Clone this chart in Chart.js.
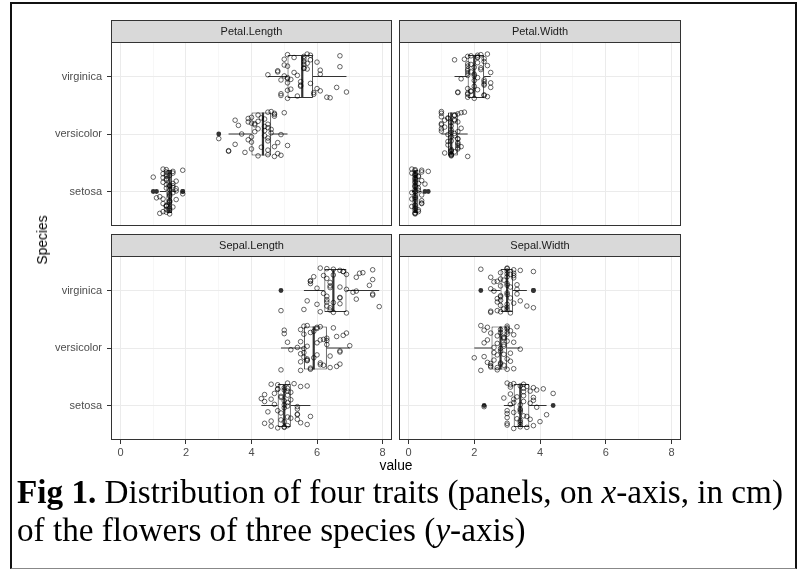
<!DOCTYPE html>
<html>
<head>
<meta charset="utf-8">
<title>Iris traits by species</title>
<script src="https://cdn.jsdelivr.net/npm/chart.js@4.4.1/dist/chart.umd.min.js"></script>
<style>
  html, body { margin: 0; padding: 0; background: #fff; }
  #fig { position: relative; width: 803px; height: 571px; overflow: hidden; background: #fff; font-family: "Liberation Sans", Arial, sans-serif; }
  #fig canvas { position: absolute; left: 0; top: 0; }
  .frame { position: absolute; left: 10px; top: 2px; width: 787px; height: 567px; box-sizing: border-box; border: 2.5px solid #111; border-bottom: 1.5px solid #888; }
  .ytitle { position: absolute; left: 43px; top: 240px; transform: translate(-50%, -50%) rotate(-90deg); font-size: 13.8px; line-height: 16px; color: #000; white-space: nowrap; }
  .xtitle { position: absolute; left: 346px; width: 100px; top: 458px; text-align: center; font-size: 13.8px; line-height: 16px; color: #000; }
  .caption { position: absolute; left: 17px; top: 473px; font-family: "Liberation Serif", "Times New Roman", serif; font-size: 33.2px; line-height: 38px; color: #000; white-space: nowrap; }
</style>
</head>
<body>
<div id="fig">
  <div class="frame"></div>
  <canvas id="pl" width="803" height="571"></canvas>
  <canvas id="pw" width="803" height="571"></canvas>
  <canvas id="sl" width="803" height="571"></canvas>
  <canvas id="sw" width="803" height="571"></canvas>
  <div class="ytitle">Species</div>
  <div class="xtitle">value</div>
  <div class="caption"><b>Fig 1.</b> Distribution of four traits (panels, on <i>x</i>-axis, in cm)<br>of the flowers of three species (<i>y</i>-axis)</div>
</div>
<script>
const species = ['setosa', 'versicolor', 'virginica'];
const xTicks = [0, 1, 2, 3, 4, 5, 6, 7, 8];
const xLabels = ['0', '', '2', '', '4', '', '6', '', '8'];

// 50 setosa, 50 versicolor, 50 virginica
const petalLength = [
  1.4,1.4,1.3,1.5,1.4,1.7,1.4,1.5,1.4,1.5, 1.5,1.6,1.4,1.1,1.2,1.5,1.3,1.4,1.7,1.5,
  1.7,1.5,1.0,1.7,1.9,1.6,1.6,1.5,1.4,1.6, 1.6,1.5,1.5,1.4,1.5,1.2,1.3,1.4,1.3,1.5,
  1.3,1.3,1.3,1.6,1.9,1.4,1.6,1.4,1.5,1.4,
  4.7,4.5,4.9,4.0,4.6,4.5,4.7,3.3,4.6,3.9, 3.5,4.2,4.0,4.7,3.6,4.4,4.5,4.1,4.5,3.9,
  4.8,4.0,4.9,4.7,4.3,4.4,4.8,5.0,4.5,3.5, 3.8,3.7,3.9,5.1,4.5,4.5,4.7,4.4,4.1,4.0,
  4.4,4.6,4.0,3.3,4.2,4.2,4.2,4.3,3.0,4.1,
  6.0,5.1,5.9,5.6,5.8,6.6,4.5,6.3,5.8,6.1, 5.1,5.3,5.5,5.0,5.1,5.3,5.5,6.7,6.9,5.0,
  5.7,4.9,6.7,4.9,5.7,6.0,4.8,4.9,5.6,5.8, 6.1,6.4,5.6,5.1,5.6,6.1,5.6,5.5,4.8,5.4,
  5.6,5.1,5.1,5.9,5.7,5.2,5.0,5.2,5.4,5.1
];
const petalWidth = [
  0.2,0.2,0.2,0.2,0.2,0.4,0.3,0.2,0.2,0.1, 0.2,0.2,0.1,0.1,0.2,0.4,0.4,0.3,0.3,0.3,
  0.2,0.4,0.2,0.5,0.2,0.2,0.4,0.2,0.2,0.2, 0.2,0.4,0.1,0.2,0.2,0.2,0.2,0.1,0.2,0.2,
  0.3,0.3,0.2,0.6,0.4,0.3,0.2,0.2,0.2,0.2,
  1.4,1.5,1.5,1.3,1.5,1.3,1.6,1.0,1.3,1.4, 1.0,1.5,1.0,1.4,1.3,1.4,1.5,1.0,1.5,1.1,
  1.8,1.3,1.5,1.2,1.3,1.4,1.4,1.7,1.5,1.0, 1.1,1.0,1.2,1.6,1.5,1.6,1.5,1.3,1.3,1.3,
  1.2,1.4,1.2,1.0,1.3,1.2,1.3,1.3,1.1,1.3,
  2.5,1.9,2.1,1.8,2.2,2.1,1.7,1.8,1.8,2.5, 2.0,1.9,2.1,2.0,2.4,2.3,1.8,2.2,2.3,1.5,
  2.3,2.0,2.0,1.8,2.1,1.8,1.8,1.8,2.1,1.6, 1.9,2.0,2.2,1.5,1.4,2.3,2.4,1.8,1.8,2.1,
  2.4,2.3,1.9,2.3,2.5,2.3,1.9,2.0,2.3,1.8
];
const sepalLength = [
  5.1,4.9,4.7,4.6,5.0,5.4,4.6,5.0,4.4,4.9, 5.4,4.8,4.8,4.3,5.8,5.7,5.4,5.1,5.7,5.1,
  5.4,5.1,4.6,5.1,4.8,5.0,5.0,5.2,5.2,4.7, 4.8,5.4,5.2,5.5,4.9,5.0,5.5,4.9,4.4,5.1,
  5.0,4.5,4.4,5.0,5.1,4.8,5.1,4.6,5.3,5.0,
  7.0,6.4,6.9,5.5,6.5,5.7,6.3,4.9,6.6,5.2, 5.0,5.9,6.0,6.1,5.6,6.7,5.6,5.8,6.2,5.6,
  5.9,6.1,6.3,6.1,6.4,6.6,6.8,6.7,6.0,5.7, 5.5,5.5,5.8,6.0,5.4,6.0,6.7,6.3,5.6,5.5,
  5.5,6.1,5.8,5.0,5.6,5.7,5.7,6.2,5.1,5.7,
  6.3,5.8,7.1,6.3,6.5,7.6,4.9,7.3,6.7,7.2, 6.5,6.4,6.8,5.7,5.8,6.4,6.5,7.7,7.7,6.0,
  6.9,5.6,7.7,6.3,6.7,7.2,6.2,6.1,6.4,7.2, 7.4,7.9,6.4,6.3,6.1,7.7,6.3,6.4,6.0,6.9,
  6.7,6.9,5.8,6.8,6.7,6.7,6.3,6.5,6.2,5.9
];
const sepalWidth = [
  3.5,3.0,3.2,3.1,3.6,3.9,3.4,3.4,2.9,3.1, 3.7,3.4,3.0,3.0,4.0,4.4,3.9,3.5,3.8,3.8,
  3.4,3.7,3.6,3.3,3.4,3.0,3.4,3.5,3.4,3.2, 3.1,3.4,4.1,4.2,3.1,3.2,3.5,3.6,3.0,3.4,
  3.5,2.3,3.2,3.5,3.8,3.0,3.8,3.2,3.7,3.3,
  3.2,3.2,3.1,2.3,2.8,2.8,3.3,2.4,2.9,2.7, 2.0,3.0,2.2,2.9,2.9,3.1,3.0,2.7,2.2,2.5,
  3.2,2.8,2.5,2.8,2.9,3.0,2.8,3.0,2.9,2.6, 2.4,2.4,2.7,2.7,3.0,3.4,3.1,2.3,3.0,2.5,
  2.6,3.0,2.6,2.3,2.7,3.0,2.9,2.9,2.5,2.8,
  3.3,2.7,3.0,2.9,3.0,3.0,2.5,2.9,2.5,3.6, 3.2,2.7,3.0,2.5,2.8,3.2,3.0,3.8,2.6,2.2,
  3.2,2.8,2.8,2.7,3.3,3.2,2.8,3.0,2.8,3.0, 2.8,3.8,2.8,2.8,2.6,3.0,3.4,3.1,3.0,3.1,
  3.1,3.1,2.7,3.2,3.3,3.0,2.5,3.0,3.4,3.0
];

// vertical jitter of each point, in hundredths of a category step
const jitterPL = [
  12,-25,31,-8,-36,5,22,-17,38,-3, -29,14,27,-11,-38,9,-21,34,1,-33,
  18,-6,25,-14,37,-27,7,-39,20,-2, 32,-19,11,-31,28,-9,16,-24,39,3,
  -35,24,-13,35,-4,-26,10,30,-16,6,
  -22,17,-37,29,2,-12,36,-30,8,21, -18,33,-5,-39,15,26,-28,4,38,-10,
  -34,19,-1,31,-23,13,-15,37,-7,24, -32,0,27,-20,11,-36,34,-3,18,-26,
  6,39,-14,-29,22,9,-38,28,-8,16,
  25,-4,-31,14,37,-19,3,-36,29,11, -24,33,-9,20,-38,7,-15,36,-27,1,
  23,-33,17,-6,39,-21,10,-30,31,-12, 4,-37,26,-2,15,-25,35,-17,8,-34,
  21,-11,38,-28,13,-5,30,-22,2,18
];
const jitterPW = [
  -7,28,-33,15,36,-20,2,-39,24,-13, 31,9,-26,-2,38,-16,19,-35,6,27,
  -10,34,-30,13,-23,0,37,-18,22,-37, 11,-6,32,-28,17,-14,3,39,-25,8,
  -32,26,-1,35,-21,14,-38,20,-11,29,
  33,-15,4,-38,21,-27,10,36,-5,-31, 18,-20,39,1,-35,25,-9,30,-24,12,
  -39,7,35,-13,-29,23,-3,38,-17,16, -33,5,27,-22,-8,37,-26,14,-36,20,
  -1,32,-19,9,-30,28,-12,-37,24,3,
  -19,8,37,-29,15,-2,30,-36,22,-11, 4,-25,34,-7,19,-33,10,38,-15,-28,
  26,1,-38,13,33,-21,6,-31,24,-4, 36,-17,12,-27,29,-9,-35,18,2,-23,
  39,-13,21,-32,7,31,-26,16,-6,35
];
const jitterSL = [
  30,-13,21,-36,8,-24,37,1,-31,16, -6,28,-39,12,-19,34,-2,25,-33,5,
  -15,39,-27,18,-9,31,-37,10,-22,2, 36,-16,23,-30,14,-4,33,-25,7,-35,
  27,-11,19,-38,-1,29,-20,11,38,-28,
  4,-34,26,-10,35,-22,13,-38,20,-3, 31,-17,9,-29,38,-7,24,-35,15,-1,
  29,-26,6,37,-14,-32,22,-5,34,-21, 11,-39,27,-12,1,36,-28,17,-8,32,
  -24,14,-37,25,-16,3,39,-30,10,-19,
  -27,16,-3,38,-21,9,-35,30,-12,23, -38,5,33,-18,12,-30,27,-6,36,-24,
  2,-33,19,-10,35,-15,26,-37,8,-1, 31,-28,14,-20,39,-8,21,-34,4,28,
  -13,-39,17,33,-23,6,-16,37,-5,24
];
const jitterSW = [
  17,-31,5,36,-19,27,-8,-37,13,32, -24,1,-14,39,-28,21,-3,30,-35,9,
  -11,25,-38,15,34,-21,-6,37,-26,11, 2,-33,29,-16,20,-40,7,33,-9,-29,
  24,-2,38,-18,14,-34,31,-12,4,-23,
  -36,23,-9,31,-1,-26,37,14,-30,8, -17,35,-39,19,3,-23,28,-12,39,-33,
  10,-5,26,-28,16,-37,32,-19,6,-8, 36,-25,21,-34,12,-2,30,-15,38,-31,
  1,24,-21,9,-38,33,-11,18,-27,27,
  10,-20,34,-32,24,-7,-38,18,3,-27, 36,-14,29,-36,8,22,-4,-30,15,37,
  -22,-11,31,-35,2,26,-17,39,-26,12, -9,33,-37,20,-1,-24,35,6,-33,28,
  -13,-39,16,30,-6,-29,23,9,-18,38
];

// per species: [lower whisker, Q1, median, Q3, upper whisker]
const petalLengthBox = [[1.2, 1.4, 1.5, 1.575, 1.7], [3.3, 4.0, 4.35, 4.6, 5.1], [4.5, 5.1, 5.55, 5.875, 6.9]];
const petalWidthBox = [[0.1, 0.2, 0.2, 0.3, 0.4], [1.0, 1.2, 1.3, 1.5, 1.8], [1.4, 1.8, 2.0, 2.3, 2.5]];
const sepalLengthBox = [[4.3, 4.8, 5.0, 5.2, 5.8], [4.9, 5.6, 5.9, 6.3, 7.0], [5.6, 6.225, 6.5, 6.9, 7.9]];
const sepalWidthBox = [[2.9, 3.2, 3.4, 3.675, 4.2], [2.0, 2.525, 2.8, 3.0, 3.4], [2.5, 2.8, 3.0, 3.175, 3.6]];

const perSpecies = 50;
const BOX_HALF = 0.375;

const tickFont = { family: '"Liberation Sans", Arial, sans-serif', size: 11 };

// strip on top of each panel plus the dark panel border
const panelFrame = {
  id: 'panelFrame',
  afterDraw(chart, args, opts) {
    const { ctx, chartArea: a } = chart;
    const w = a.right - a.left;
    ctx.save();
    ctx.fillStyle = '#d9d9d9';
    ctx.fillRect(a.left, a.top - 22, w, 22);
    ctx.strokeStyle = '#333';
    ctx.lineWidth = 1;
    ctx.strokeRect(a.left + 0.5, a.top - 21.5, w - 1, 22);
    ctx.strokeRect(a.left + 0.5, a.top + 0.5, w - 1, a.bottom - a.top - 1);
    ctx.fillStyle = '#1a1a1a';
    ctx.font = '11px "Liberation Sans", Arial, sans-serif';
    ctx.textAlign = 'center';
    ctx.textBaseline = 'middle';
    ctx.fillText(opts.title, (a.left + a.right) / 2, a.top - 10.5);
    ctx.restore();
  }
};

function panelDatasets(values, jitter, box) {
  const pts = values.map((v, i) => ({ x: v, y: Math.floor(i / perSpecies) + 1 + jitter[i] / 100 }));
  const outliers = [];
  values.forEach((v, i) => {
    const s = Math.floor(i / perSpecies);
    if (v < box[s][0] || v > box[s][4]) outliers.push({ x: v, y: s + 1 });
  });
  const medians = [];
  const whiskers = [];
  box.forEach((b, s) => {
    const y = s + 1;
    medians.push({ x: b[2], y: y - BOX_HALF }, { x: b[2], y: y + BOX_HALF }, { x: null, y: null });
    whiskers.push({ x: b[0], y: y }, { x: b[1], y: y }, { x: null, y: null },
                  { x: b[3], y: y }, { x: b[4], y: y }, { x: null, y: null });
  });
  return [
    { type: 'scatter', data: pts, pointRadius: 2.3, pointBorderWidth: 0.8,
      backgroundColor: 'rgba(0,0,0,0)', borderColor: 'rgba(0,0,0,0.75)',
      pointBackgroundColor: 'rgba(0,0,0,0)', pointBorderColor: 'rgba(0,0,0,0.75)' },
    { type: 'scatter', data: outliers, pointRadius: 2.4, pointBorderWidth: 0,
      backgroundColor: '#333', borderColor: '#333', pointBackgroundColor: '#333', pointBorderColor: '#333' },
    { type: 'line', data: medians, borderColor: '#333', borderWidth: 2.2, pointRadius: 0, spanGaps: false, fill: false },
    { type: 'line', data: whiskers, borderColor: '#333', borderWidth: 1, pointRadius: 0, spanGaps: false, fill: false },
    { type: 'bar', indexAxis: 'y', data: box.map((b, s) => ({ y: s + 1, x: [b[1], b[3]] })),
      backgroundColor: '#fff', borderColor: '#333', borderWidth: 1, borderSkipped: false,
      categoryPercentage: 1, barPercentage: 0.75 }
  ];
}

function makePanel(id, title, values, jitter, box, area, showX, showY) {
  const yW = showY ? area.left : 0;
  const xH = showX ? 20 : 0;
  new Chart(document.getElementById(id), {
    type: 'scatter',
    data: { datasets: panelDatasets(values, jitter, box) },
    options: {
      responsive: false,
      animation: false,
      events: [],
      layout: {
        autoPadding: false,
        padding: { left: area.left - yW, right: 803 - area.right, top: area.top, bottom: 571 - area.bottom - xH }
      },
      plugins: { legend: { display: false }, tooltip: { enabled: false }, panelFrame: { title: title } },
      scales: {
        x: {
          type: 'linear', min: -0.29, max: 8.29, offset: false,
          afterBuildTicks: s => { s.ticks = xTicks.map(v => ({ value: v })); },
          afterFit: s => { s.height = xH; },
          ticks: { display: showX, autoSkip: false, maxRotation: 0, padding: 2, color: '#4d4d4d', font: tickFont,
                   callback: (v, i) => xLabels[i] },
          grid: {
            offset: false,
            color: c => (c.tick && c.tick.value % 2 !== 0) ? '#f2f2f2' : '#ebebeb',
            lineWidth: c => (c.tick && c.tick.value % 2 !== 0) ? 0.6 : 1,
            drawTicks: showX, tickLength: 4, tickWidth: 1,
            tickColor: c => (c.tick && c.tick.value % 2 !== 0) ? 'rgba(0,0,0,0)' : '#333'
          },
          border: { display: false }
        },
        y: {
          type: 'linear', min: 0.4, max: 3.6, offset: false,
          afterBuildTicks: s => { s.ticks = species.map((n, i) => ({ value: i + 1 })); },
          afterFit: s => { s.width = yW; },
          ticks: { display: showY, autoSkip: false, padding: 5, color: '#4d4d4d', font: tickFont,
                   callback: (v, i) => species[i] },
          grid: { offset: false, color: '#ebebeb', lineWidth: 1, drawTicks: showY, tickLength: 4, tickWidth: 1, tickColor: '#333' },
          border: { display: false }
        }
      }
    },
    plugins: [panelFrame]
  });
}

makePanel('pl', 'Petal.Length', petalLength, jitterPL, petalLengthBox, { left: 111, right: 392, top: 42, bottom: 226 }, false, true);
makePanel('pw', 'Petal.Width', petalWidth, jitterPW, petalWidthBox, { left: 399, right: 681, top: 42, bottom: 226 }, false, false);
makePanel('sl', 'Sepal.Length', sepalLength, jitterSL, sepalLengthBox, { left: 111, right: 392, top: 256, bottom: 440 }, true, true);
makePanel('sw', 'Sepal.Width', sepalWidth, jitterSW, sepalWidthBox, { left: 399, right: 681, top: 256, bottom: 440 }, true, false);
</script>
</body>
</html>
